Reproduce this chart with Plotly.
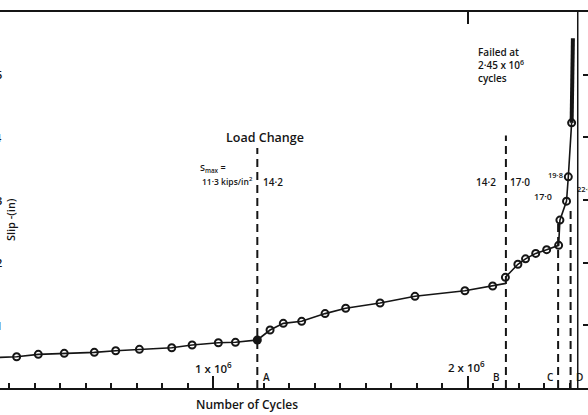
import plotly.graph_objects as go

# cycles in millions, slip in chart units (one right-hand tick = 1)
cyc_a = [0.10, 0.229, 0.314, 0.416, 0.534, 0.618, 0.711, 0.838, 0.918, 1.021, 1.088, 1.174]
slip_a = [0.48, 0.499, 0.537, 0.553, 0.569, 0.595, 0.617, 0.643, 0.686, 0.722, 0.729, 0.766]

cyc_b = [1.174, 1.224, 1.276, 1.348, 1.440, 1.521, 1.656, 1.793, 1.989, 2.098, 2.150]
slip_b = [0.766, 0.925, 1.032, 1.064, 1.187, 1.273, 1.356, 1.463, 1.552, 1.627, 1.670]

cyc_c = [2.148, 2.197, 2.227, 2.267, 2.310, 2.357, 2.362, 2.388, 2.395, 2.408]
slip_c = [1.766, 1.974, 2.061, 2.148, 2.207, 2.276, 2.679, 2.982, 3.370, 4.231]

cyc_fail = [2.408, 2.413]
slip_fail = [4.231, 5.58]

# load change positions and dashed line heights
change_x = [1.174, 2.150, 2.355, 2.404]
change_top = [3.83, 4.03, 2.65, 2.90]
change_names = ["A", "B", "C", "D"]
fail_x = 2.432

ink = "#151515"
fnt = "Open Sans"

fig = go.Figure()

# dashed load change lines
for x, top in zip(change_x, change_top):
    fig.add_trace(go.Scatter(x=[x, x], y=[0, top], mode="lines",
                             line=dict(color=ink, width=2, dash="8px,5px"),
                             showlegend=False, hoverinfo="skip"))
fig.add_trace(go.Scatter(x=[fail_x, fail_x], y=[0, 6], mode="lines",
                         line=dict(color=ink, width=1.5), showlegend=False))

# curves
fig.add_trace(go.Scatter(x=cyc_a, y=slip_a, mode="lines", line=dict(color=ink, width=1.6), showlegend=False))
fig.add_trace(go.Scatter(x=cyc_b, y=slip_b, mode="lines", line=dict(color=ink, width=1.6), showlegend=False))
fig.add_trace(go.Scatter(x=cyc_c, y=slip_c, mode="lines", line=dict(color=ink, width=1.6), showlegend=False))
fig.add_trace(go.Scatter(x=cyc_fail, y=slip_fail, mode="lines", line=dict(color=ink, width=4), showlegend=False))

# observed points
pts_x = cyc_a[1:-1] + cyc_b[1:-1] + cyc_c
pts_y = slip_a[1:-1] + slip_b[1:-1] + slip_c
fig.add_trace(go.Scatter(x=pts_x, y=pts_y, mode="markers",
                         marker=dict(symbol="circle-open", size=7, color=ink, line=dict(width=2)),
                         showlegend=False))
fig.add_trace(go.Scatter(x=[cyc_a[-1]], y=[slip_a[-1]], mode="markers",
                         marker=dict(symbol="circle", size=9, color=ink), showlegend=False))

fig.add_trace(go.Scatter(x=[2], y=[3], xaxis="x2", mode="markers", marker=dict(opacity=0),
                         showlegend=False, hoverinfo="skip"))

ann = []
def txt(x, y, t, size=11, xa="center", **kw):
    ann.append(dict(x=x, y=y, text=t, showarrow=False, xanchor=xa,
                    font=dict(family=fnt, size=size, color=ink, weight=600), **kw))

txt(1.204, 3.99, "Load Change", 12.5)
txt(0.943, 3.51, "S<sub>max</sub> =", 9, "left")
txt(1.163, 3.30, "11·3 kips/in<sup>2</sup>", 8.5, "right")
txt(1.188, 3.29, "14·2", 10, "left")
txt(2.117, 3.29, "14·2", 10, "right")
txt(2.160, 3.29, "17·0", 10, "left")
txt(2.337, 3.05, "17·0", 9, "right")
txt(2.343, 3.40, "19·8", 7.5)
txt(2.421, 3.17, "22·0", 7.5, "left")
txt(2.034, 5.50, "Failed at<br>2·45 x 10<sup>6</sup><br>cycles", 10, "left", align="left", yanchor="top")
txt(1.0, 0.33, "1 x 10<sup>6</sup>", 11.5)
txt(1.997, 0.34, "2 x 10<sup>6</sup>", 11.5)
for n, x, dx in zip(change_names, change_x, [9, -9, -8, 9]):
    txt(x, 0.17, n, 10, xshift=dx)
ann.append(dict(x=1.134, yref="paper", y=-0.045, yanchor="middle", text="Number of Cycles",
                showarrow=False, font=dict(family=fnt, size=12, color=ink, weight=600)))
txt(0.203, 2.68, "Slip -(in)", 11, textangle=-90)
for v in [1, 2, 3, 4, 5]:
    ann.append(dict(xref="paper", x=0, y=v, text=str(v), showarrow=False, xanchor="right",
                    xshift=4, font=dict(family=fnt, size=11, color=ink, weight=600)))

fig.update_layout(
    width=588, height=415,
    margin=dict(l=0, r=0, t=12, b=27),
    paper_bgcolor="white", plot_bgcolor="white",
    annotations=ann,
    xaxis=dict(range=[0.1637, 2.4723], showgrid=False, zeroline=False,
               showline=True, linecolor=ink, linewidth=2,
               ticks="inside", tick0=0, dtick=1, ticklen=12, tickwidth=1.5, tickcolor=ink,
               minor=dict(ticks="inside", dtick=0.1, tick0=0, ticklen=5, tickwidth=1.5, tickcolor=ink),
               showticklabels=False),
    xaxis2=dict(overlaying="x", side="top", matches="x", showgrid=False, zeroline=False,
                showline=True, linecolor=ink, linewidth=2,
                ticks="inside", tickvals=[2], ticklen=12, tickwidth=1.5, tickcolor=ink,
                showticklabels=False),
    yaxis=dict(range=[0, 6], side="right", showgrid=False, zeroline=False, showline=False,
               ticks="inside", tickvals=[1, 2, 3, 4, 5], ticklen=5, tickwidth=1.5, tickcolor=ink,
               showticklabels=False),
)

fig.write_html("out.html", config={"displayModeBar": False},
               post_script="document.body.style.margin='0';")
